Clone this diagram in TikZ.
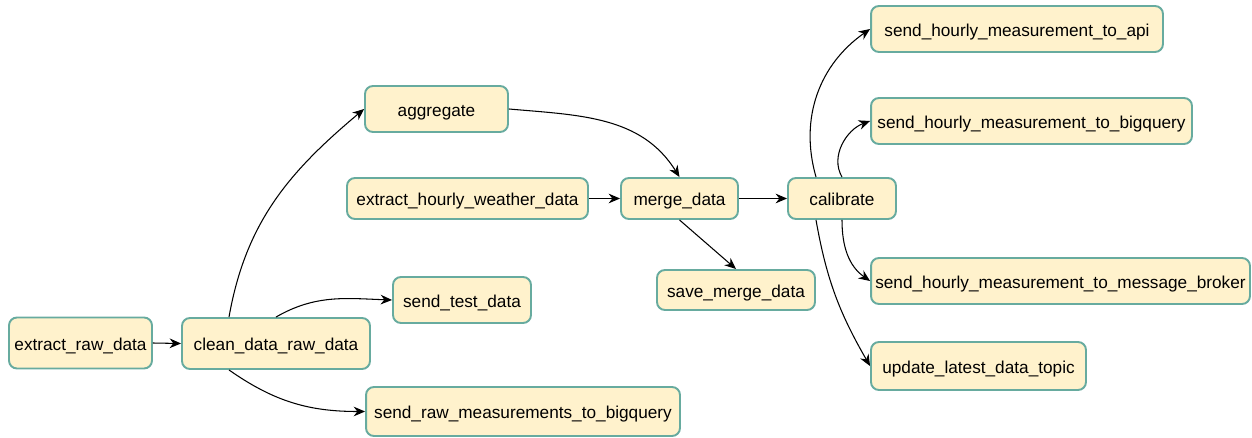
\documentclass[tikz,border=0pt]{standalone}
\usepackage{fontspec}
\setmainfont{Liberation Sans}
\usepackage{tikz}
\usetikzlibrary{arrows.meta}
\definecolor{taskfill}{HTML}{FFF2CC}
\definecolor{taskline}{HTML}{67AB9F}
\begin{document}
\begin{tikzpicture}[x=0.02cm,y=0.02cm,
  task/.style={draw=taskline,fill=taskfill,line width=1.1pt,rounded corners=4.5pt,
    inner sep=0pt,text height=8pt,text depth=0pt,font=\fontsize{9.8}{12}\selectfont,text=black},
  flow/.style={-{Stealth[length=6.5pt,width=5.5pt]},line width=0.6pt}]
\useasboundingbox (0,0) rectangle (1252,437);
\node[task,minimum width=2.86cm,minimum height=1.02cm] (raw) at (80.5,94) {extract\_raw\_data};
\node[task,minimum width=3.76cm,minimum height=1.02cm] (clean) at (276,93.5) {clean\_data\_raw\_data};
\node[task,minimum width=2.76cm,minimum height=0.92cm] (test) at (462,137) {send\_test\_data};
\node[task,minimum width=6.28cm,minimum height=0.98cm] (rawbq) at (523,25.5) {send\_raw\_measurements\_to\_bigquery};
\node[task,minimum width=2.86cm,minimum height=0.92cm] (aggregate) at (436.5,328) {aggregate};
\node[task,minimum width=4.82cm,minimum height=0.82cm] (weather) at (467.5,238.5) {extract\_hourly\_weather\_data};
\node[task,minimum width=2.34cm,minimum height=0.82cm] (merge) at (679.5,238.5) {merge\_data};
\node[task,minimum width=3.16cm,minimum height=0.80cm] (save) at (736,147) {save\_merge\_data};
\node[task,minimum width=2.16cm,minimum height=0.82cm] (calibrate) at (842,238.5) {calibrate};
\node[task,minimum width=5.84cm,minimum height=0.92cm] (api) at (1017,408) {send\_hourly\_measurement\_to\_api};
\node[task,minimum width=6.42cm,minimum height=0.92cm] (hourbq) at (1031.5,316) {send\_hourly\_measurement\_to\_bigquery};
\node[task,minimum width=7.58cm,minimum height=0.92cm] (broker) at (1060.5,156) {send\_hourly\_measurement\_to\_message\_broker};
\node[task,minimum width=4.30cm,minimum height=0.96cm] (topic) at (978.5,71) {update\_latest\_data\_topic};

\draw[flow] (raw.east) -- (clean.west);
\draw[flow] ([xshift=-0.94cm]clean.north) to[out=80,in=220] (aggregate.west);
\draw[flow] (clean.north) to[out=30,in=178] (test.west);
\draw[flow] ([xshift=-0.94cm]clean.south) to[out=-35,in=180] (rawbq.west);
\draw[flow] (aggregate.east) to[out=-5,in=122] (merge.north);
\draw[flow] (weather.east) -- (merge.west);
\draw[flow] (merge.south) -- (save.north);
\draw[flow] (merge.east) -- (calibrate.west);
\draw[flow] ([xshift=-0.52cm]calibrate.north) to[out=106,in=215] (api.west);
\draw[flow] (calibrate.north) to[out=120,in=200] (hourbq.west);
\draw[flow] (calibrate.south) to[out=-90,in=145] (broker.west);
\draw[flow] ([xshift=-0.52cm]calibrate.south) to[out=-80,in=120] (topic.west);
\end{tikzpicture}
\end{document}
